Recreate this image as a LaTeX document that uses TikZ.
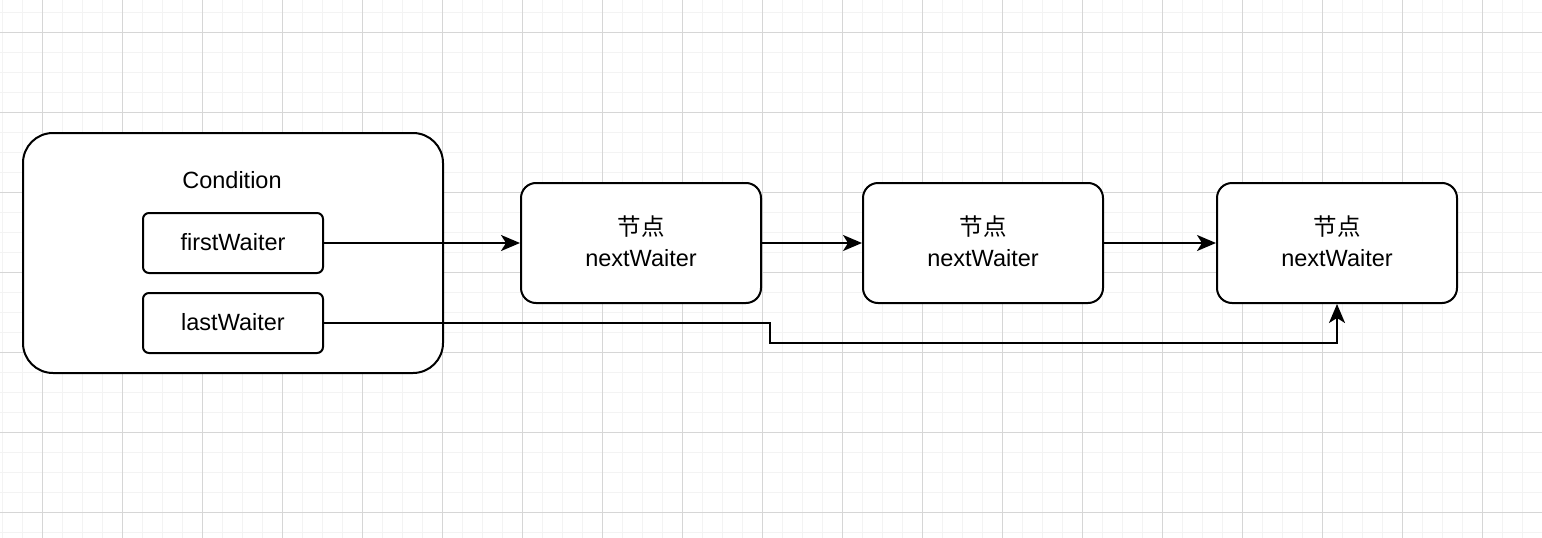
\documentclass[tikz,border=0pt]{standalone}
\usepackage{fontspec}
\setmainfont{Liberation Sans}
\newfontfamily\cjk{Noto Sans CJK SC}
\usetikzlibrary{arrows.meta}
\definecolor{minorgrid}{HTML}{F3F3F3}
\definecolor{majorgrid}{HTML}{D6D6D6}
\tikzset{
  box/.style={draw=black, line width=2pt, fill=white, rounded corners=#1, inner sep=0pt},
  box/.default=15pt,
  conn/.style={draw=black, line width=2pt, -{Stealth[length=19pt,width=16pt,inset=5pt]}},
  lbl/.style={font=\fontsize{23.5}{28}\selectfont, align=center, inner sep=0pt}
}
\begin{document}
\begin{tikzpicture}[x=1pt,y=-1pt]
\useasboundingbox (0,0) rectangle (1542,538);
\fill[white] (0,0) rectangle (1542,538);
% grid
\foreach \x in {2,22,...,1542} \draw[minorgrid, line width=1pt] (\x,0) -- (\x,538);
\foreach \y in {12,32,...,538} \draw[minorgrid, line width=1pt] (0,\y) -- (1542,\y);
\foreach \x in {42,122,...,1542} \draw[majorgrid, line width=1pt] (\x,0) -- (\x,538);
\foreach \y in {32,112,...,538} \draw[majorgrid, line width=1pt] (0,\y) -- (1542,\y);
% condition
\draw[box=30pt] (23,133) rectangle (443,373);
\node[lbl] (cond) at (232,180) {Condition};
\draw[box=6pt] (143,213) rectangle (323,273);
\node[lbl] (first) at (233,242) {firstWaiter};
\coordinate (firstE) at (323,243);
\draw[box=6pt] (143,293) rectangle (323,353);
\node[lbl] (last) at (233,322) {lastWaiter};
\coordinate (lastE) at (323,323);
% nodes
\node[box, minimum width=240pt, minimum height=120pt] (n1) at (641,243) {};
\node[box, minimum width=240pt, minimum height=120pt] (n2) at (983,243) {};
\node[box, minimum width=240pt, minimum height=120pt] (n3) at (1337,243) {};
\foreach \n in {n1,n2,n3}{
  \node[lbl] at ([yshift=16pt]\n.center) {\cjk 节点};
  \node[lbl] at ([yshift=-15pt]\n.center) {nextWaiter};
}
% connectors
\draw[conn] (firstE) -- (n1.west);
\draw[conn] (n1.east) -- (n2.west);
\draw[conn] (n2.east) -- (n3.west);
\draw[conn] (lastE) -- (770,323) -- (770,343) -- (n3.south |- 0,343) -- (n3.south);
\end{tikzpicture}
\end{document}
